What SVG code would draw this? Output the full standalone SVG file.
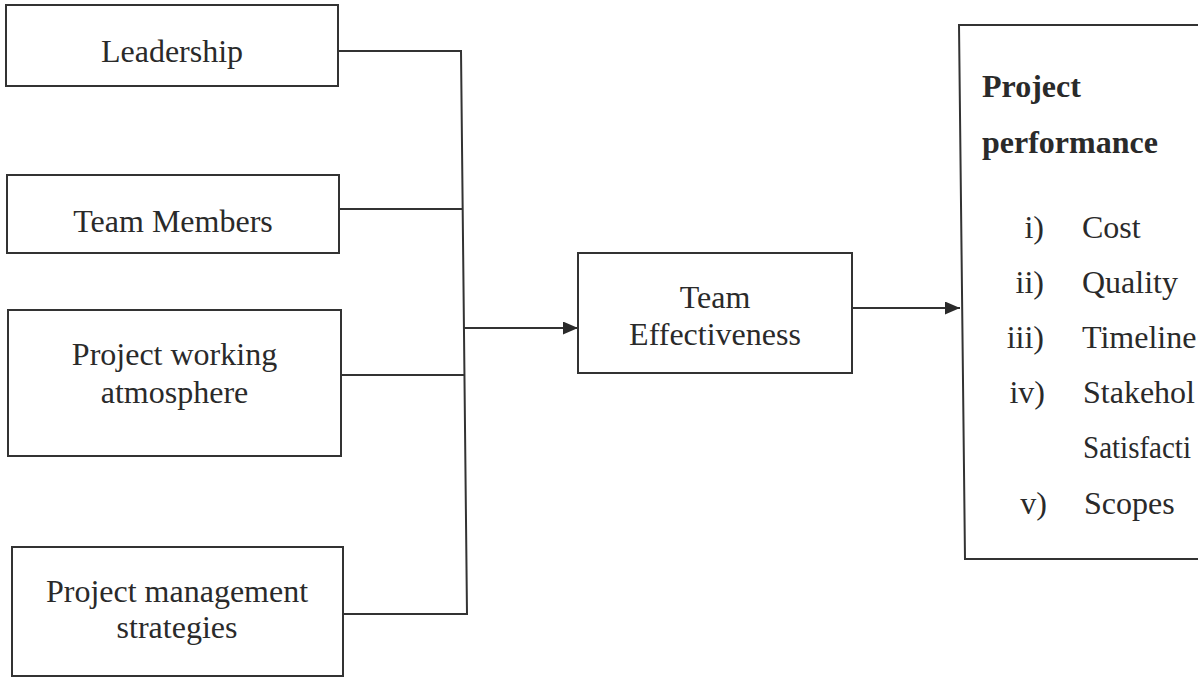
<svg xmlns="http://www.w3.org/2000/svg" width="1198" height="677" viewBox="0 0 1198 677">
<style>
.box{fill:#fff;stroke:#333;stroke-width:2}
.t{font-family:"Liberation Serif","Times New Roman",serif;font-size:32px;fill:#2a2a2a}
.c{text-anchor:middle}
.b{font-weight:bold}
.e{text-anchor:end}
.ln{fill:none;stroke:#333;stroke-width:2}
</style>
<defs>
<marker id="ah" viewBox="0 0 15 13" refX="15" refY="6.5" markerWidth="15" markerHeight="13" markerUnits="userSpaceOnUse" orient="auto">
<path d="M0 0 L15 6.5 L0 13 Z" fill="#2a2a2a"/>
</marker>
</defs>
<rect width="1198" height="677" fill="#fff"/>
<g id="connectors">
<path class="ln" d="M338 51 H461 L467 614 H343"/>
<path class="ln" d="M339 209 H463"/>
<path class="ln" d="M341 375 H464.5"/>
<path class="ln" d="M464 328 H578" marker-end="url(#ah)"/>
<path class="ln" d="M852 308 H960" marker-end="url(#ah)"/>
</g>
<g id="leadership">
<rect class="box" x="6" y="5" width="332" height="81"/>
<text class="t c" x="172" y="62">Leadership</text>
</g>
<g id="team-members">
<rect class="box" x="7" y="175" width="332" height="78"/>
<text class="t c" x="173" y="232">Team Members</text>
</g>
<g id="working-atmosphere">
<rect class="box" x="8" y="310" width="333" height="146"/>
<text class="t c" x="174.5" y="365">Project working</text>
<text class="t c" x="174.5" y="403">atmosphere</text>
</g>
<g id="management-strategies">
<rect class="box" x="12" y="547" width="331" height="129"/>
<text class="t c" x="177" y="602">Project management</text>
<text class="t c" x="177" y="638">strategies</text>
</g>
<g id="team-effectiveness">
<rect class="box" x="578" y="253" width="274" height="120"/>
<text class="t c" x="715" y="308">Team</text>
<text class="t c" x="715" y="345">Effectiveness</text>
</g>
<g id="project-performance">
<path class="box" d="M1210 25 H959 L965 559 H1210"/>
<text class="t b" x="982" y="97">Project</text>
<text class="t b" x="982" y="153">performance</text>
<text class="t e" x="1044" y="238">i)</text>
<text class="t" x="1082" y="238">Cost</text>
<text class="t e" x="1044" y="293">ii)</text>
<text class="t" x="1082" y="293">Quality</text>
<text class="t e" x="1044" y="348">iii)</text>
<text class="t" x="1082" y="348">Timeline</text>
<text class="t e" x="1045" y="403">iv)</text>
<text class="t" x="1083" y="403">Stakehol</text>
<text class="t" x="1083" y="458" textLength="108" lengthAdjust="spacingAndGlyphs">Satisfacti</text>
<text class="t e" x="1047" y="514">v)</text>
<text class="t" x="1084" y="514">Scopes</text>
</g>
</svg>
